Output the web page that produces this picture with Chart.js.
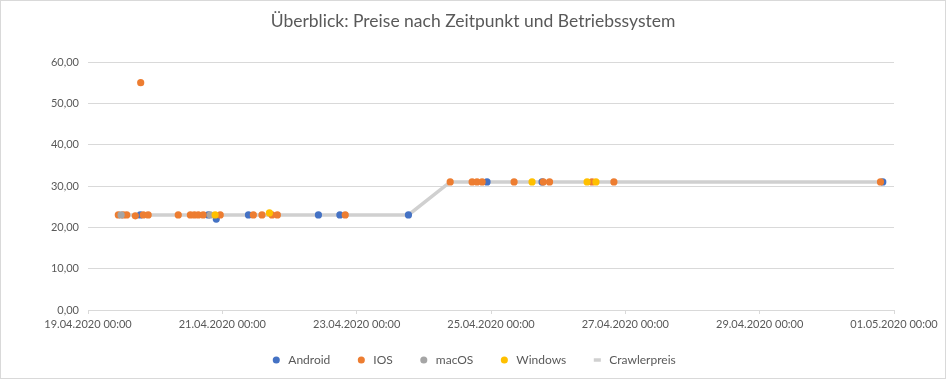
<!DOCTYPE html>
<html lang="de">
<head>
<meta charset="UTF-8">
<script src="https://cdn.jsdelivr.net/npm/chart.js"></script>
<title>Überblick</title>
<style>
  html, body { margin: 0; padding: 0; background: #fff; }
  #box { width: 946px; height: 379px; box-sizing: border-box; border: 1px solid #d9d9d9; }
</style>
</head>
<body>
<div id="box"><canvas id="myChart" width="944" height="377"></canvas></div>
<script>
// Messzeitpunkte und Preise je Betriebssystem
const androidZeit  = ["19.04.2020 18:40", "20.04.2020 19:00", "20.04.2020 21:50", "21.04.2020 09:20", "22.04.2020 10:20",
                      "22.04.2020 18:00", "23.04.2020 18:30", "24.04.2020 22:35", "25.04.2020 18:15", "30.04.2020 20:00"];
const androidPreis = [22.99, 22.99, 21.99, 22.99, 22.99, 22.99, 22.99, 30.99, 30.99, 30.99];

const iosZeit  = ["19.04.2020 10:50", "19.04.2020 12:35", "19.04.2020 13:50", "19.04.2020 16:55", "19.04.2020 19:45",
                  "19.04.2020 21:30", "19.04.2020 18:50", "20.04.2020 08:15", "20.04.2020 12:35", "20.04.2020 14:00",
                  "20.04.2020 15:25", "20.04.2020 17:10", "20.04.2020 23:15", "21.04.2020 11:05", "21.04.2020 14:10",
                  "21.04.2020 17:45", "21.04.2020 19:40", "22.04.2020 19:55", "24.04.2020 09:25", "24.04.2020 17:15",
                  "24.04.2020 19:00", "24.04.2020 20:50", "25.04.2020 08:15", "25.04.2020 18:40", "25.04.2020 20:55",
                  "26.04.2020 12:05", "26.04.2020 19:55", "30.04.2020 19:10"];
const iosPreis = [22.99, 22.99, 22.99, 22.79, 22.99, 22.99, 54.99, 22.99, 22.99, 22.99,
                  22.99, 22.99, 22.99, 22.99, 22.99, 22.99, 22.99, 22.99, 30.99, 30.99,
                  30.99, 30.99, 30.99, 30.99, 30.99, 30.99, 30.99, 30.99];

const macosZeit  = ["19.04.2020 11:50", "20.04.2020 19:40"];
const macosPreis = [22.99, 22.99];

const windowsZeit  = ["20.04.2020 21:25", "21.04.2020 16:50", "25.04.2020 14:40", "26.04.2020 10:20", "26.04.2020 13:30"];
const windowsPreis = [22.99, 23.49, 30.99, 30.99, 30.99];

const crawlerZeit  = ["19.04.2020 10:50", "23.04.2020 18:30", "24.04.2020 09:25", "30.04.2020 20:00"];
const crawlerPreis = [22.99, 22.99, 30.99, 30.99];

const achseStart = "19.04.2020 00:00";
const achseEnde  = "01.05.2020 00:00";
const yTicks = [0, 10, 20, 30, 40, 50, 60];

function parseZeit(s) {
    // "TT.MM.JJJJ hh:mm"
    let [d, t] = s.split(" ");
    let [tag, mon, jahr] = d.split(".").map(Number);
    let [h, m] = t.split(":").map(Number);
    return new Date(jahr, mon - 1, tag, h, m).getTime();
}
function fmtZeit(ms) {
    let d = new Date(ms);
    let p = n => n.toString().padStart(2, '0');
    return p(d.getDate()) + "." + p(d.getMonth() + 1) + "." + d.getFullYear() + " " + p(d.getHours()) + ":" + p(d.getMinutes());
}
function punkte(zeiten, preise) {
    return zeiten.map((z, i) => ({ x: parseZeit(z), y: preise[i] }));
}

const grau = '#595959';
Chart.defaults.font.family = "Lato, 'Open Sans', sans-serif";
Chart.defaults.color = grau;

function scatterSet(label, zeiten, preise, farbe, order) {
    return {
        type: 'scatter', label: label, data: punkte(zeiten, preise),
        backgroundColor: farbe, borderColor: farbe, borderWidth: 0,
        pointRadius: 3.6, pointHoverRadius: 4, pointStyle: 'circle', order: order
    };
}

let ctx = document.getElementById("myChart");
let myChart = new Chart(ctx, {
    data: {
        datasets: [
            scatterSet('Android', androidZeit, androidPreis, '#4472c4', 4),
            scatterSet('IOS', iosZeit, iosPreis, '#ed7d31', 3),
            scatterSet('macOS', macosZeit, macosPreis, '#a5a5a5', 2),
            scatterSet('Windows', windowsZeit, windowsPreis, '#ffc000', 1),
            {
                type: 'line', label: 'Crawlerpreis', data: punkte(crawlerZeit, crawlerPreis),
                borderColor: '#d0d0d0', backgroundColor: '#d0d0d0', borderWidth: 3.5,
                pointRadius: 0, pointStyle: 'line', tension: 0, order: 5
            }
        ]
    },
    options: {
        responsive: false,
        animation: false,
        layout: { padding: { left: 0, right: 0, top: 0, bottom: 2 } },
        plugins: {
            title: {
                display: true,
                text: 'Überblick: Preise nach Zeitpunkt und Betriebssystem',
                color: grau,
                font: { size: 17.5, weight: 'normal' },
                padding: { top: 10, bottom: 30 }
            },
            legend: {
                position: 'bottom',
                maxHeight: 51,
                labels: {
                    usePointStyle: true, boxWidth: 12, boxHeight: 5,
                    color: grau, font: { size: 12 }, padding: 25,
                    sort: (a, b) => a.datasetIndex - b.datasetIndex
                }
            },
            tooltip: { enabled: false }
        },
        scales: {
            x: {
                type: 'linear',
                min: parseZeit(achseStart), max: parseZeit(achseEnde),
                afterBuildTicks: s => {
                    let t = [];
                    for (let v = s.min; v <= s.max; v += 2 * 86400000) t.push({ value: v });
                    s.ticks = t;
                },
                ticks: { callback: v => fmtZeit(v), maxRotation: 0, autoSkip: false, font: { size: 11 }, padding: 4 },
                grid: { drawOnChartArea: false, color: '#d9d9d9', tickLength: 4 },
                border: { color: '#d9d9d9' },
                afterFit: s => { s.height = 19; }
            },
            y: {
                min: 0, max: 60,
                afterBuildTicks: s => { s.ticks = yTicks.map(v => ({ value: v })); },
                ticks: { callback: v => v.toFixed(2).replace('.', ','), font: { size: 11 }, padding: 9 },
                grid: { color: '#d9d9d9', drawTicks: false },
                border: { display: false },
                afterFit: s => { s.width = 87; }
            },
            rechts: {
                position: 'right',
                ticks: { display: false },
                grid: { display: false },
                border: { display: false },
                afterFit: s => { s.width = 51; }
            }
        }
    }
});
</script>
</body>
</html>
